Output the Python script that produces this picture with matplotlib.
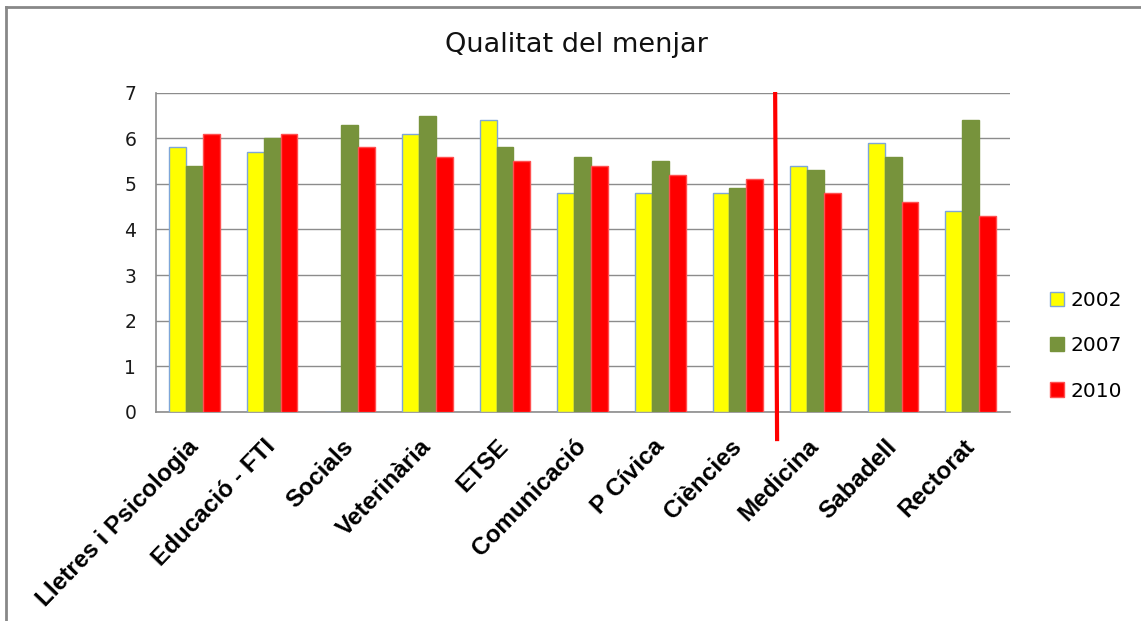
import numpy as np
import matplotlib
matplotlib.use("Agg")
import matplotlib.pyplot as plt
import matplotlib.transforms as mtransforms
from matplotlib.lines import Line2D

# Data
categories = ["Lletres i Psicologia", "Educació - FTI", "Socials", "Veterinària", "ETSE",
              "Comunicació", "P Cívica", "Ciències", "Medicina", "Sabadell", "Rectorat"]
years = ["2002", "2007", "2010"]
v2002 = [5.8, 5.7, 0.0, 6.1, 6.4, 4.8, 4.8, 4.8, 5.4, 5.9, 4.4]
v2007 = [5.4, 6.0, 6.3, 6.5, 5.8, 5.6, 5.5, 4.9, 5.3, 5.6, 6.4]
v2010 = [6.1, 6.1, 5.8, 5.6, 5.5, 5.4, 5.2, 5.1, 4.8, 4.6, 4.3]
yticks = [0, 1, 2, 3, 4, 5, 6, 7]

fills = ["#FFFF00", "#77933C", "#FF0000"]
edges = ["#7EA6D8", "#77933C", "#FF5050"]

fig = plt.figure(figsize=(11.41, 6.21), dpi=100)
ax = fig.add_axes([0.1365, 0.337, 0.7483, 0.5137])

x = np.arange(len(categories))
w = 0.217
for i, vals in enumerate([v2002, v2007, v2010]):
    ax.bar(x + (i - 1) * w, vals, width=w, color=fills[i], edgecolor=edges[i],
           linewidth=1.0, label=years[i], zorder=3)

ax.set_xlim(-0.5, len(categories) - 0.5)
ax.set_ylim(0, 7)
ax.set_yticks(yticks)
ax.yaxis.grid(True, color="#8C8C8C", linewidth=1.0, zorder=0)
ax.tick_params(axis="y", length=0, pad=14, labelsize=13.5, labelcolor="#1a1a1a")
ax.tick_params(axis="x", length=0, pad=6)
ax.set_xticks(x)
ax.set_xticklabels(categories, rotation=46, ha="right", va="center",
                   rotation_mode="anchor", fontsize=17.5, fontweight="bold",
                   family="Liberation Sans")
# push labels a little further below the axis
shift = mtransforms.ScaledTranslation(0.0, -0.23, fig.dpi_scale_trans)
for lab in ax.get_xticklabels():
    lab.set_transform(lab.get_transform() + shift)
for s in ["top", "right"]:
    ax.spines[s].set_visible(False)
for s in ["left", "bottom"]:
    ax.spines[s].set_color("#8C8C8C")
    ax.spines[s].set_linewidth(1.2)

# red separator between Ciències and Medicina
ax.add_line(Line2D([7.48, 7.505], [6.97, -0.6], color="#FF0000", linewidth=3,
                   clip_on=False, zorder=5))

fig.text(0.505, 0.927, "Qualitat del menjar", ha="center", va="center",
         fontsize=19.5, color="#111111")

fig.legend(loc="center left", bbox_to_anchor=(0.920, 0.443), frameon=False,
           prop={"size": 14.5},
           handlelength=0.7, handleheight=0.7, handletextpad=0.35,
           labelspacing=1.3, borderpad=0, borderaxespad=0)

# chart frame (left and top edges visible)
fig.add_artist(Line2D([0.005, 0.005], [0.0, 0.988], color="#888888", linewidth=2,
                      transform=fig.transFigure))
fig.add_artist(Line2D([0.005, 1.0], [0.988, 0.988], color="#888888", linewidth=2,
                      transform=fig.transFigure))

fig.savefig("out.png", dpi=100)
